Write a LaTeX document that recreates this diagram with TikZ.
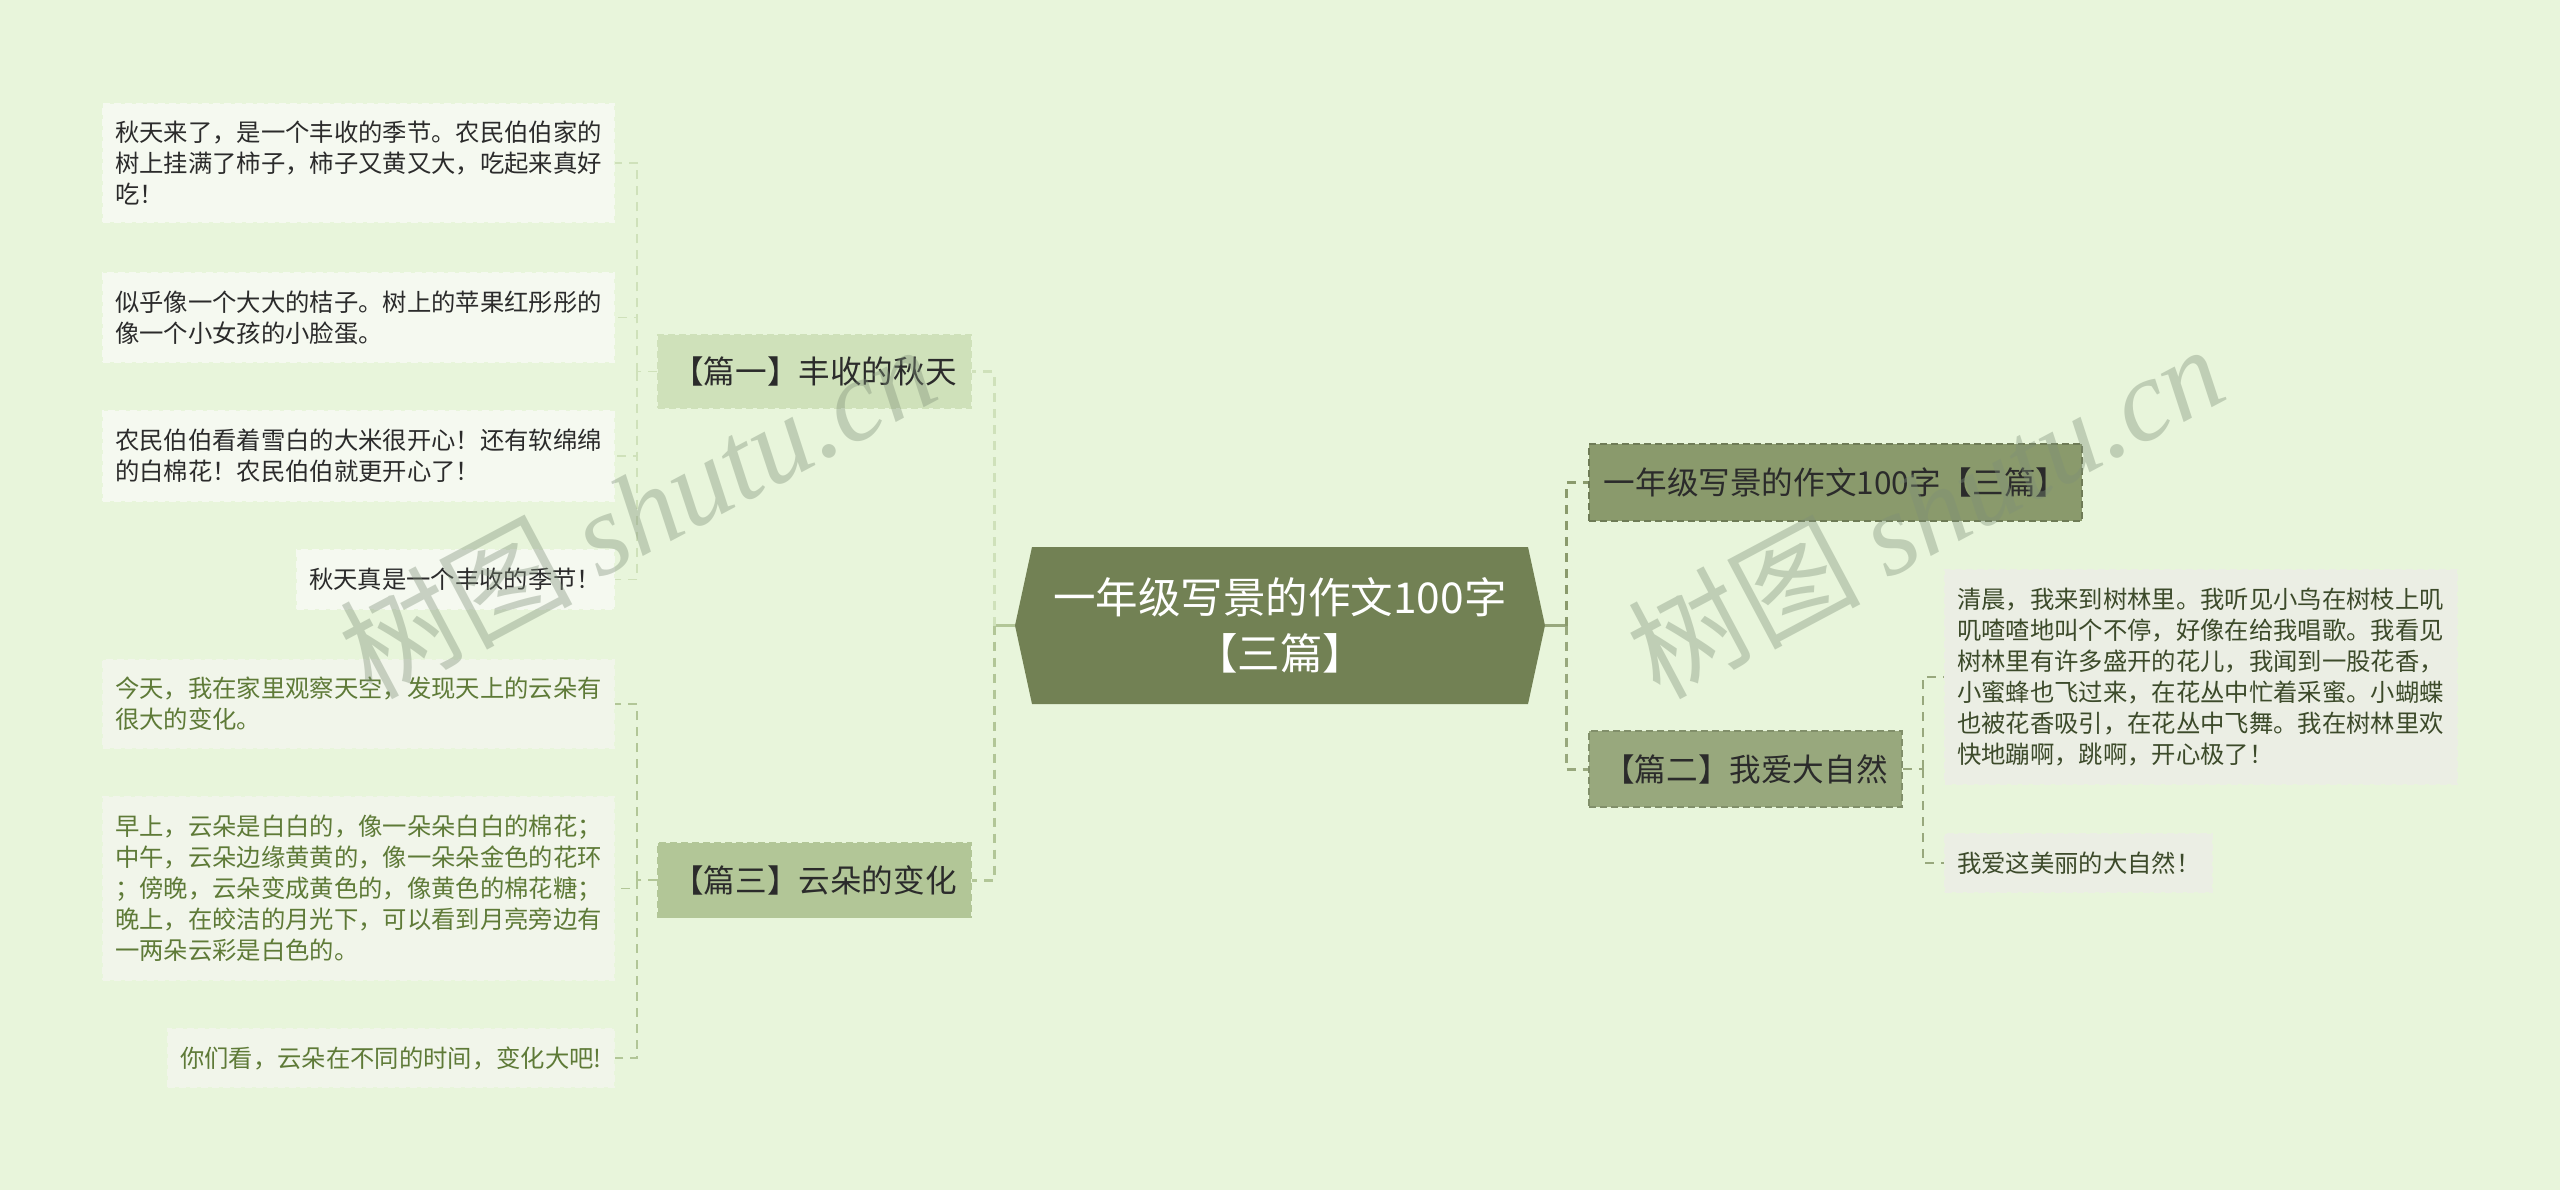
\documentclass[tikz,border=0pt]{standalone}
\usepackage{fontspec}
\setmainfont{Noto Sans CJK SC}
\newfontfamily\wmserif{Liberation Serif}[ItalicFont={Liberation Serif Italic}]
\usetikzlibrary{calc}
\definecolor{bgc}{HTML}{E8F5DB}
\definecolor{cfill}{HTML}{728154}
\definecolor{rone}{HTML}{8A9A6C}
\definecolor{rtwo}{HTML}{98A87D}
\definecolor{bone}{HTML}{CFE1BA}
\definecolor{bthree}{HTML}{B2C697}
\definecolor{lfa}{HTML}{F5F9F0}
\definecolor{lfb}{HTML}{F1F5EA}
\definecolor{rfa}{HTML}{EBEEE4}
\definecolor{txa}{HTML}{2B2B2B}
\definecolor{txb}{HTML}{5E7A37}
\definecolor{txc}{HTML}{3C4A2A}
\definecolor{wmc}{HTML}{7E8F78}
\tikzset{
  x=1pt,y=-1pt,
  leaf/.style 2 args={rectangle,minimum width=#1pt,minimum height=#2pt,inner xsep=12pt,inner ysep=0pt,text width={#1pt-24pt},align=left,font=\fontsize{24.35}{31}\selectfont,line width=1.2pt,dash pattern=on 7pt off 4pt},
  leafa/.style={fill=lfa,draw=lfa,text=txa},
  leafb/.style={fill=lfb,draw=lfb,text=txb},
  leafc/.style={fill=rfa,draw=rfa,text=txc},
  branch/.style 2 args={rectangle,minimum width=#1pt,minimum height=#2pt,inner sep=0pt,align=center,font=\fontsize{31.6}{38}\selectfont,text=txa,line width=1.5pt,dash pattern=on 7pt off 4pt},
  rootnode/.style={rectangle,minimum width=530pt,minimum height=157pt,inner sep=0pt,align=center,text=white,font=\fontsize{42.5}{56}\selectfont},
  thin link/.style={line width=1.5pt,dash pattern=on 9pt off 7pt},
  thick link/.style={line width=3pt,dash pattern=on 9pt off 7pt},
  solid link/.style={line width=3pt},
  watermark/.style={rotate=28,text=wmc,opacity=0.38,font=\fontsize{116}{120}\selectfont,inner sep=0pt},
}
\begin{document}
\begin{tikzpicture}
\useasboundingbox (0,0) rectangle (2560,1190);
\fill[bgc] (0,0) rectangle (2560,1190);
% root
\fill[cfill] (1015,625.5) -- (1032,547) -- (1528,547) -- (1545,625.5) -- (1528,704) -- (1032,704) -- cycle;
\node[rootnode] (root) at (1280,625.5) {一年级写景的作文100字\\【三篇】};
% branches
\node[branch={313}{73},fill=bone,draw=bone] (b1) at (814.5,371.5) {【篇一】丰收的秋天};
\node[branch={313}{75},fill=bthree,draw=bthree] (b3) at (814.5,880) {【篇三】云朵的变化};
\node[branch={493}{77},fill=rone,draw=rone!80!black] (r1) at (1835.5,482.5) {一年级写景的作文100字【三篇】};
\node[branch={313}{76},fill=rtwo,draw=rtwo!85!black] (r2) at (1745.5,769) {【篇二】我爱大自然};
% leaves
\node[leaf={511}{118},leafa] (a1) at (358.5,163) {秋天来了，是一个丰收的季节。农民伯伯家的\\树上挂满了柿子，柿子又黄又大，吃起来真好\\吃！};
\node[leaf={511}{89},leafa] (a2) at (358.5,317.5) {似乎像一个大大的桔子。树上的苹果红彤彤的\\像一个小女孩的小脸蛋。};
\node[leaf={511}{90},leafa] (a3) at (358.5,456) {农民伯伯看着雪白的大米很开心！还有软绵绵\\的白棉花！农民伯伯就更开心了！};
\node[leaf={317}{59},leafa] (a4) at (455.5,579.5) {秋天真是一个丰收的季节！};
\node[leaf={511}{88},leafb] (c1) at (358.5,704) {今天，我在家里观察天空，发现天上的云朵有\\很大的变化。};
\node[leaf={511}{183},leafb] (c2) at (358.5,888.5) {早上，云朵是白白的，像一朵朵白白的棉花；\\中午，云朵边缘黄黄的，像一朵朵金色的花环\\；傍晚，云朵变成黄色的，像黄色的棉花糖；\\晚上，在皎洁的月光下，可以看到月亮旁边有\\一两朵云彩是白色的。};
\node[leaf={446}{58},leafb] (c3) at (391,1058) {你们看，云朵在不同的时间，变化大吧!};
\node[leaf={512}{214},leafc] (d1) at (2201,677) {清晨，我来到树林里。我听见小鸟在树枝上叽\\叽喳喳地叫个不停，好像在给我唱歌。我看见\\树林里有许多盛开的花儿，我闻到一股花香，\\小蜜蜂也飞过来，在花丛中忙着采蜜。小蝴蝶\\也被花香吸引，在花丛中飞舞。我在树林里欢\\快地蹦啊，跳啊，开心极了！};
\node[leaf={267}{58},leafc] (d2) at (2078.5,863) {我爱这美丽的大自然！};
% junctions
\coordinate (tl) at (994,625.5);
\coordinate (tr) at (1566,625.5);
\coordinate (sa) at (637,371.5);
\coordinate (sc) at (637,880);
\coordinate (sd) at (1923,769);
% links
\draw[solid link,draw=bthree] (root.west) -- (tl);
\draw[solid link,draw=rtwo] (root.east) -- (tr);
\draw[thick link,draw=bone] (tl) |- (b1.east);
\draw[thick link,draw=bthree] (tl) |- (b3.east);
\draw[thick link,draw=rone] (tr) |- (r1.west);
\draw[thick link,draw=rtwo] (tr) |- (r2.west);
\draw[thin link,draw=bone] (b1.west) -- (sa);
\draw[thin link,draw=bone] (sa) |- (a1.east);
\draw[thin link,draw=bone] (sa) |- (a2.east);
\draw[thin link,draw=bone] (sa) |- (a3.east);
\draw[thin link,draw=bone] (sa) |- (a4.east);
\draw[thin link,draw=bthree] (b3.west) -- (sc);
\draw[thin link,draw=bthree] (sc) |- (c1.east);
\draw[thin link,draw=bthree] (sc) |- (c2.east);
\draw[thin link,draw=bthree] (sc) |- (c3.east);
\draw[thin link,draw=rtwo] (r2.east) -- (sd);
\draw[thin link,draw=rtwo] (sd) |- (d1.west);
\draw[thin link,draw=rtwo] (sd) |- (d2.west);
% watermarks
\node[watermark] (w1) at (637,510) {树图 {\wmserif\itshape shutu.cn}};
\node[watermark] (w2) at (1925,510) {树图 {\wmserif\itshape shutu.cn}};
\end{tikzpicture}
\end{document}
